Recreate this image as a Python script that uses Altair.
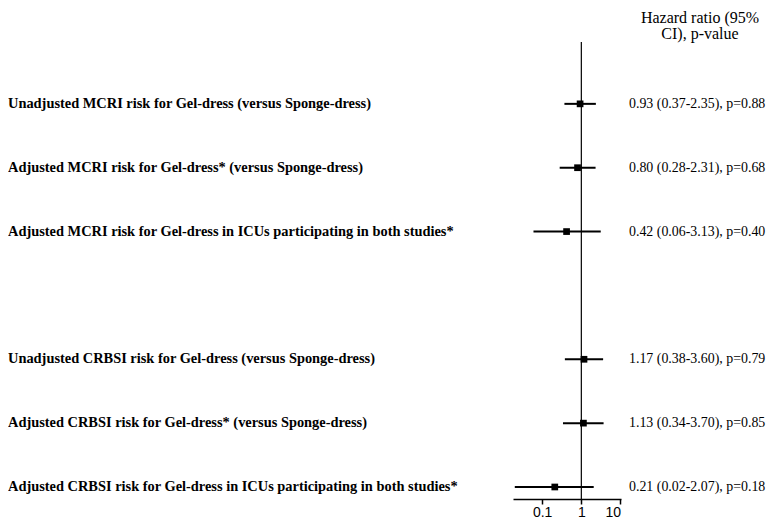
import altair as alt
import pandas as pd

labels = [
    "Unadjusted MCRI risk for Gel-dress (versus Sponge-dress)",
    "Adjusted MCRI risk for Gel-dress* (versus Sponge-dress)",
    "Adjusted MCRI risk for Gel-dress in ICUs participating in both studies*",
    "Unadjusted CRBSI risk for Gel-dress (versus Sponge-dress)",
    "Adjusted CRBSI risk for Gel-dress* (versus Sponge-dress)",
    "Adjusted CRBSI risk for Gel-dress in ICUs participating in both studies*",
]
rows = [1, 2, 3, 5, 6, 7]
hr = [0.93, 0.80, 0.42, 1.17, 1.13, 0.21]
lo = [0.37, 0.28, 0.06, 0.38, 0.34, 0.02]
hi = [2.35, 2.31, 3.13, 3.60, 3.70, 2.07]
pvals = ["0.88", "0.68", "0.40", "0.79", "0.85", "0.18"]
ticks = [0.1, 1, 10]
header = ["Hazard ratio (95%", "CI), p-value"]

df = pd.DataFrame({"label": labels, "row": rows, "hr": hr, "lo": lo, "hi": hi, "p": pvals})
df["txt"] = [f"{h:.2f} ({l:.2f}-{u:.2f}), p={p}" for h, l, u, p in zip(hr, lo, hi, pvals)]

W, H = 108, 459
xs = alt.Scale(type="log", domain=[0.018, 10.3], nice=False)
ys = alt.Scale(domain=[0.0, 7.188], reverse=True, nice=False, zero=False)

base = alt.Chart(df)
xax = alt.Axis(values=ticks, format="~g", title=None, grid=False, domainColor="black",
               domainWidth=1.5, tickColor="black", tickWidth=1.5, tickSize=5,
               labelFont="Liberation Sans", labelFontSize=14, labelColor="black",
               labelPadding=1)

ref = alt.Chart(pd.DataFrame({"v": [1]})).mark_rule(color="black", strokeWidth=1.2).encode(
    x=alt.X("v:Q", scale=xs, axis=xax), y=alt.value(2), y2=alt.value(H))

err = base.mark_rule(color="black", strokeWidth=2).encode(
    x=alt.X("lo:Q", scale=xs), x2="hi:Q", y=alt.Y("row:Q", scale=ys, axis=None))

pts = base.mark_square(color="black", opacity=1, size=45).encode(
    x=alt.X("hr:Q", scale=xs), y=alt.Y("row:Q", scale=ys))

left = base.mark_text(align="left", baseline="middle", font="Liberation Serif",
                      fontWeight="bold", fontSize=14.4, color="black").encode(
    x=alt.value(-505), y=alt.Y("row:Q", scale=ys), text="label:N")

right = base.mark_text(align="left", baseline="middle", font="Liberation Serif",
                       fontSize=13.9, color="black").encode(
    x=alt.value(116), y=alt.Y("row:Q", scale=ys), text="txt:N")

hdf = pd.DataFrame({"t": header, "yy": [-22, -6]})
head = alt.Chart(hdf).mark_text(align="center", baseline="middle", font="Liberation Serif",
                                fontSize=16, color="black").encode(
    x=alt.value(187), y=alt.Y("yy:Q", scale=None), text="t:N")

chart = alt.layer(ref, err, pts, left, right, head).properties(
    width=W, height=H,
    background="white",
    autosize=alt.AutoSizeParams(type="none"),
    padding={"left": 505, "top": 32, "right": 149, "bottom": 21},
).configure_view(strokeWidth=0, stroke="transparent")

chart.save("out.html", embed_options={"renderer": "svg", "actions": False})
